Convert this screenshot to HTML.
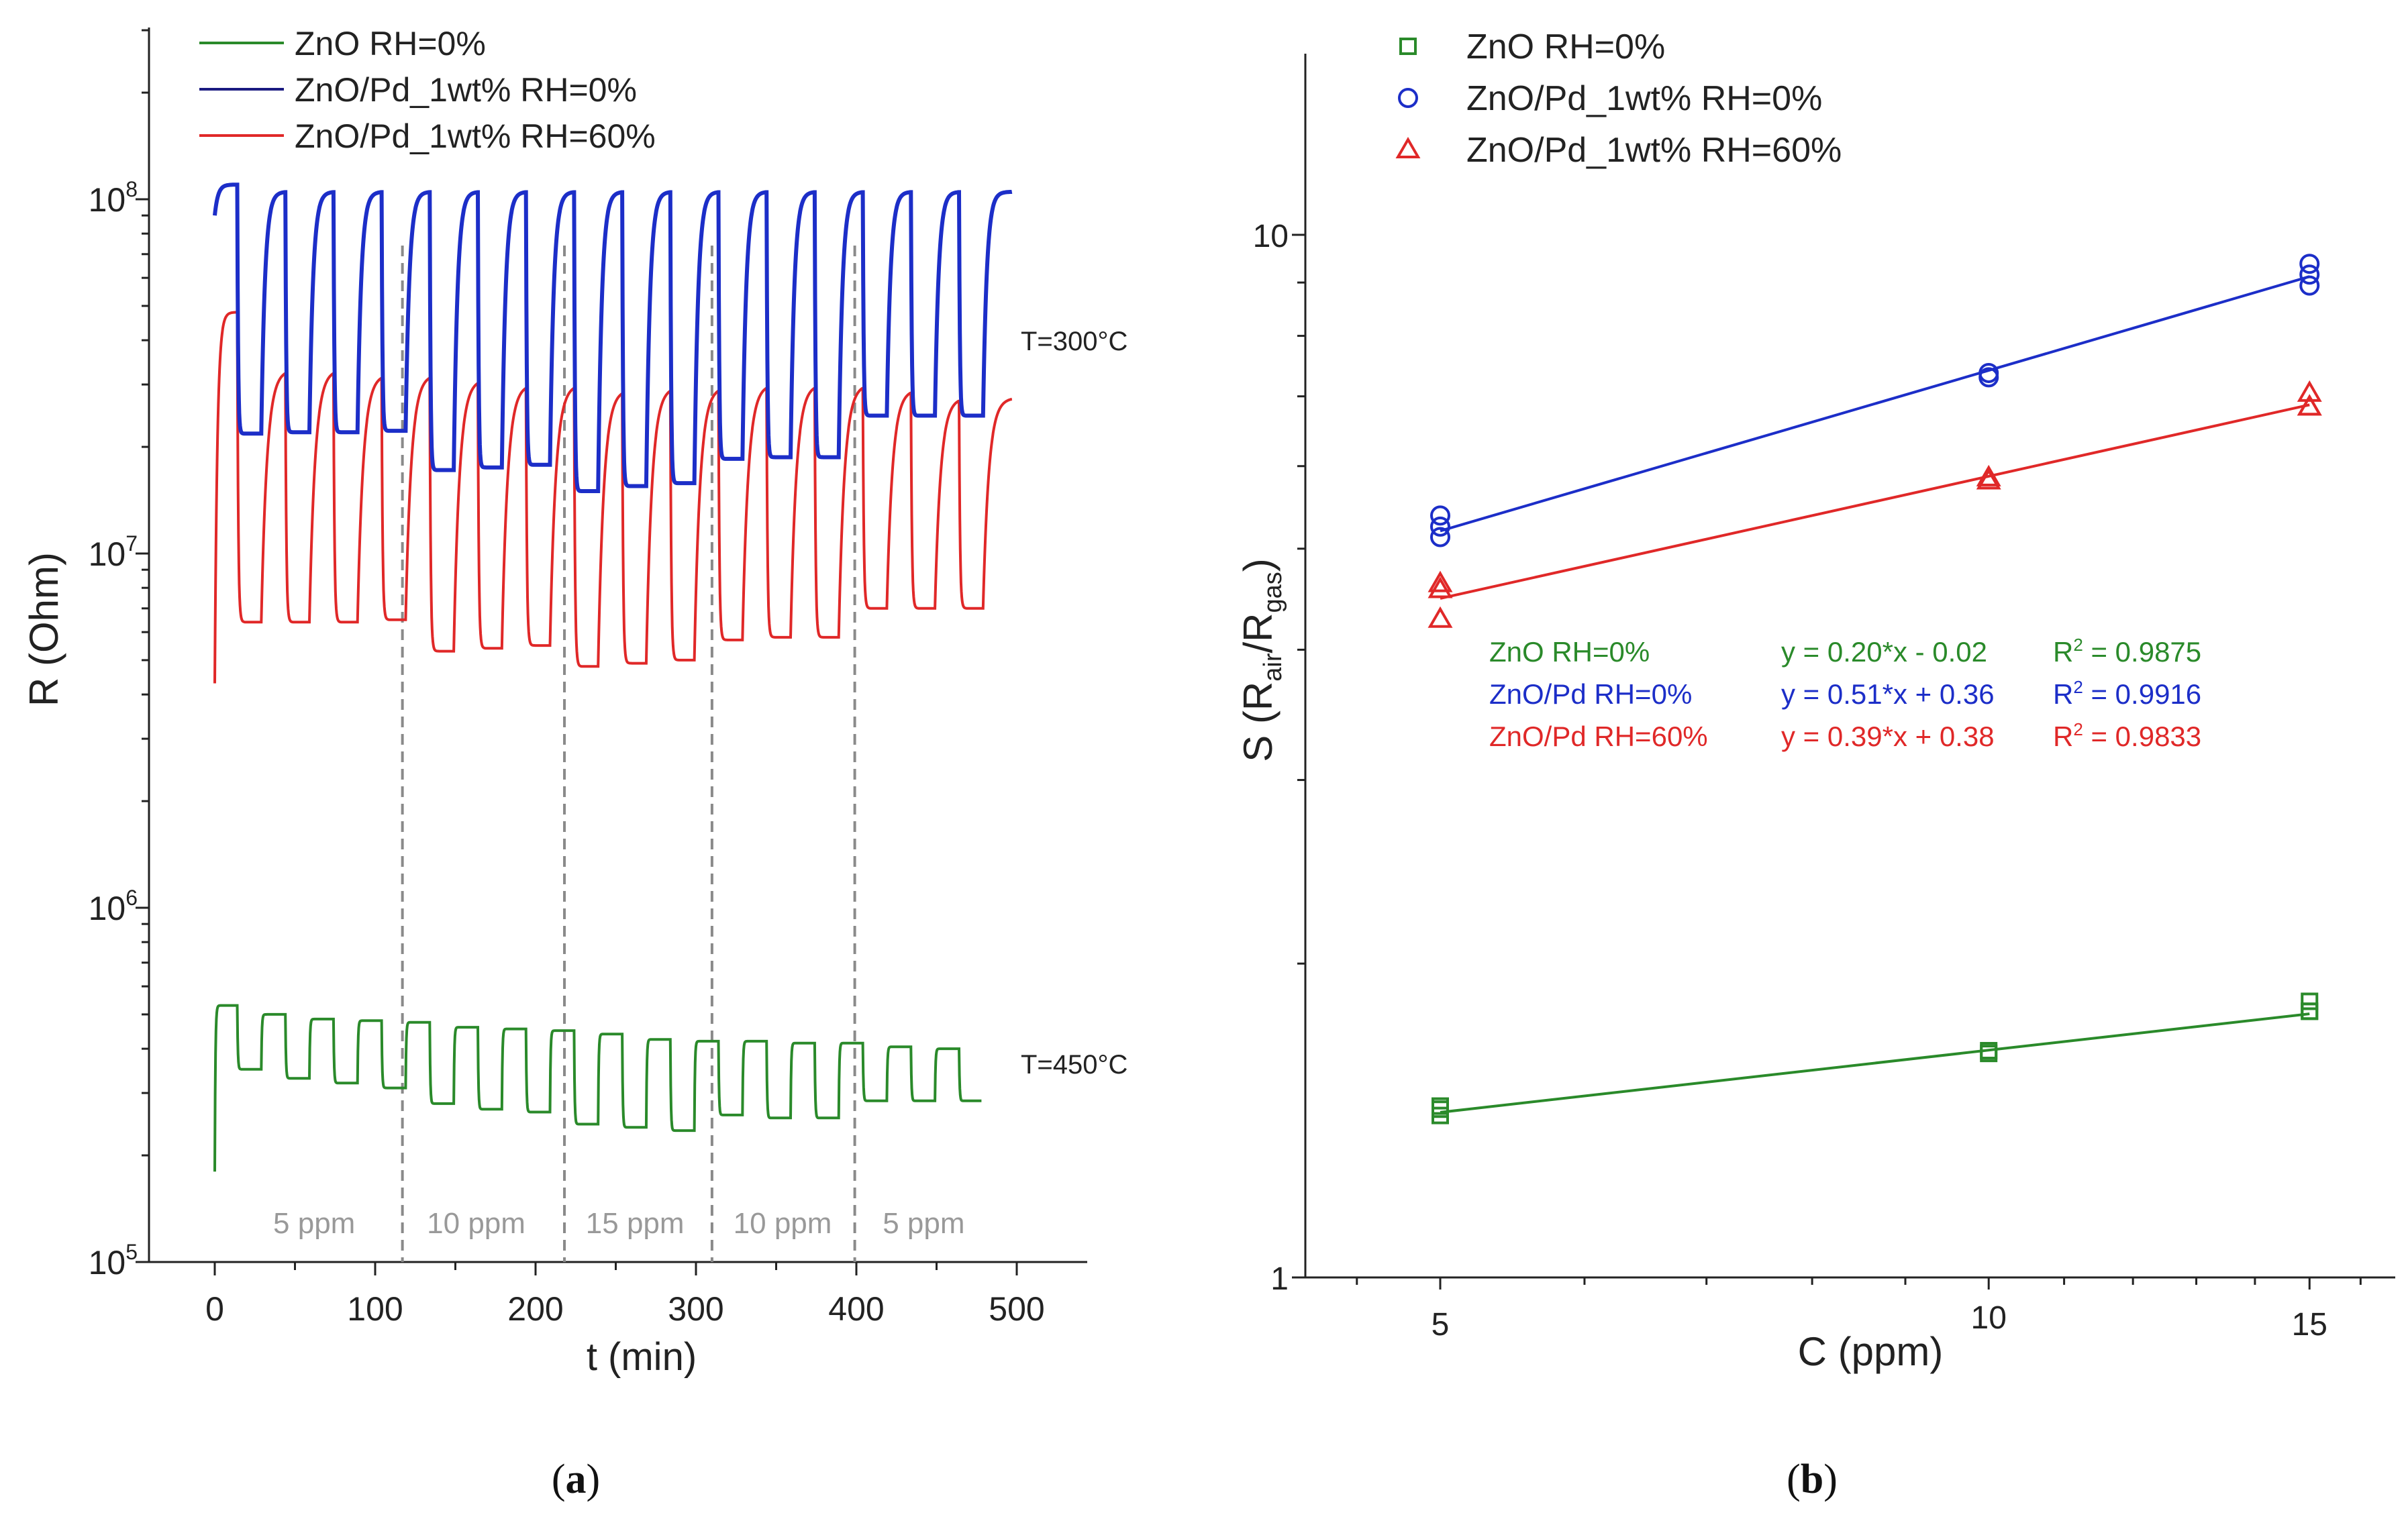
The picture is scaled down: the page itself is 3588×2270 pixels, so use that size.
<!DOCTYPE html>
<html><head><meta charset="utf-8"><style>
html,body{margin:0;padding:0;background:#fff;}
svg{display:block;font-family:"Liberation Sans",sans-serif;}
</style></head><body>
<svg id="fig" xmlns="http://www.w3.org/2000/svg" width="3588" height="2270" viewBox="0 0 3588 2270">
<rect width="3588" height="2270" fill="#fff"/>
<g id="pa"></g>
<g id="pb"></g>
</svg>
<script>
// ---------- Panel (a) data ----------
const gasOnTimes = [14,44,74,104,134,164,194,224,254,284,314,344,374,404,434,464];
const gasDuration = [15];
const dashedTimes = [117,218,310,399];
const segmentLabels = ["5 ppm","10 ppm","15 ppm","10 ppm","5 ppm"];
const segmentCenters = [62,163,262,354,442];
const xTicksA = [0,100,200,300,400,500];
const blueStart = [0.9e8];
const blueHighs = [1.1e8,1.05e8,1.05e8,1.05e8,1.05e8,1.05e8,1.05e8,1.05e8,1.05e8,1.05e8,1.05e8,1.05e8,1.05e8,1.05e8,1.05e8,1.05e8,1.05e8];
const blueLows = [2.18e7,2.2e7,2.2e7,2.22e7,1.72e7,1.75e7,1.78e7,1.5e7,1.55e7,1.58e7,1.85e7,1.87e7,1.87e7,2.45e7,2.45e7,2.45e7];
const redStart = [4.3e6];
const redHighs = [4.8e7,3.3e7,3.3e7,3.2e7,3.2e7,3.1e7,3.0e7,3.0e7,2.9e7,2.95e7,2.95e7,3.0e7,3.0e7,3.0e7,2.9e7,2.75e7,2.75e7];
const redLows = [6.4e6,6.4e6,6.4e6,6.5e6,5.3e6,5.4e6,5.5e6,4.8e6,4.9e6,5.0e6,5.7e6,5.8e6,5.8e6,7.0e6,7.0e6,7.0e6];
const greenStart = [1.8e5];
const greenHighs = [5.3e5,5.0e5,4.85e5,4.8e5,4.75e5,4.6e5,4.55e5,4.5e5,4.4e5,4.25e5,4.2e5,4.2e5,4.15e5,4.15e5,4.05e5,4.0e5,4.0e5];
const greenLows = [3.5e5,3.3e5,3.2e5,3.1e5,2.8e5,2.7e5,2.65e5,2.45e5,2.4e5,2.35e5,2.6e5,2.55e5,2.55e5,2.85e5,2.85e5,2.85e5];

// ---------- Panel (b) data ----------
const concentrations = [5,5,5,10,10,15,15,15];
const greenS = [1.45,1.43,1.46,1.64,1.65,1.84,1.80,1.80];
const blueS = [5.38,5.25,5.13,7.37,7.30,9.38,9.16,8.94];
const redS = [4.63,4.57,4.28,5.85,5.81,7.05,6.84,6.84];
const fitX = [5,15];
const greenFit = [1.44,1.79];
const blueFit = [5.20,9.12];
const redFit = [4.48,6.87];
const xTicksB = [5,10,15];

const NS="http://www.w3.org/2000/svg";
function mk(parent,tag,attrs,text){const e=document.createElementNS(NS,tag);for(const k in attrs)e.setAttribute(k,attrs[k]);if(text!==undefined)e.textContent=text;parent.appendChild(e);return e;}
const GREEN="#2a8a2a", BLUE="#1c2ec8", RED="#e02828";

// ================= Panel A =================
const pa=document.getElementById('pa');
const xA=t=>320+t*2.39;
const yA=v=>1881-(Math.log10(v)-5)*528;
let ax=mk(pa,'line',{x1:222,y1:41,x2:222,y2:1881,stroke:'#222','stroke-width':3});

ax=mk(pa,'line',{x1:222,y1:1881,x2:1620,y2:1881,stroke:'#222','stroke-width':3});

for(let d=5;d<=8;d++){for(let m=1;m<=9;m++){const v=m*Math.pow(10,d);if(Math.log10(v)>8.49)continue;
  const y=yA(v);const tk=mk(pa,'line',{x1:m==1?202:211,y1:y,x2:222,y2:y,stroke:'#222','stroke-width':3});
  
  if(m==1){const tx=mk(pa,'text',{x:205,y:y+18,'font-size':50,'text-anchor':'end',fill:'#222'});
    
    mk(tx,'tspan',{},'10');mk(tx,'tspan',{'font-size':32,dy:-22},String(d));}}}
for(let t=-0;t<=550;t+=50){const x=xA(t);if(x>1620)break;const tk=mk(pa,'line',{x1:x,y1:1881,x2:x,y2:t%100==0?1901:1893,stroke:'#222','stroke-width':3});
  }
xTicksA.forEach(t=>{const tx=mk(pa,'text',{x:xA(t),y:1968,'font-size':50,'text-anchor':'middle',fill:'#222'},String(t));
  });
let lab=mk(pa,'text',{x:956,y:2042,'font-size':58,'text-anchor':'middle',fill:'#222'},'t (min)');

lab=mk(pa,'text',{x:0,y:0,'font-size':60,'text-anchor':'middle',fill:'#222',transform:'translate(86,938) rotate(-90)'},'R (Ohm)');

dashedTimes.forEach(t=>{const l=mk(pa,'line',{x1:xA(t),y1:366,x2:xA(t),y2:1881,stroke:'#8a8a8a','stroke-width':4,'stroke-dasharray':'16,10'});
  });
segmentLabels.forEach((s,i)=>{const tx=mk(pa,'text',{x:xA(segmentCenters[i]),y:1838,'font-size':44,'text-anchor':'middle',fill:'#999'},s);
  });
function series(start,highs,lows,tauR,tauF,tEnd,tau0){
  const pts=[];let cur=Math.log10(start[0]);let phase=-1,t0=0,v0=cur,target=Math.log10(highs[0]),tau=tau0;
  const dur=gasDuration[0];
  for(let t=0;t<=tEnd+0.001;t+=0.25){
    let k=-1,inGas=false;
    for(let i=0;i<gasOnTimes.length;i++){if(t>=gasOnTimes[i]){k=i;inGas=t<gasOnTimes[i]+dur;}}
    const ph=k*2+(inGas?1:0);
    if(ph!==phase){phase=ph;t0=t;v0=cur;
      if(k<0){target=Math.log10(highs[0]);tau=tau0;}
      else if(inGas){target=Math.log10(lows[k]);tau=tauF;}
      else{target=Math.log10(highs[k+1]);tau=tauR;}}
    cur=target+(v0-target)*Math.exp(-(t-t0)/tau);
    pts.push([t,cur]);}
  return pts.map((p,i)=>(i?'L':'M')+xA(p[0]).toFixed(1)+','+(1881-(p[1]-5)*528).toFixed(1)).join('');}
let p=mk(pa,'path',{d:series(greenStart,greenHighs,greenLows,0.35,0.35,478,0.4),fill:'none',stroke:GREEN,'stroke-width':4});

p=mk(pa,'path',{d:series(redStart,redHighs,redLows,3.5,0.6,497,1.6),fill:'none',stroke:RED,'stroke-width':4});

p=mk(pa,'path',{d:series(blueStart,blueHighs,blueLows,2.3,0.5,497,2),fill:'none',stroke:BLUE,'stroke-width':6});

lab=mk(pa,'text',{x:1521,y:522,'font-size':40,fill:'#222'},'T=300°C');
lab=mk(pa,'text',{x:1521,y:1600,'font-size':40,fill:'#222'},'T=450°C');
const legA=[["ZnO RH=0%",GREEN],["ZnO/Pd_1wt% RH=0%","#1a1a80"],["ZnO/Pd_1wt% RH=60%",RED]];
legA.forEach((l,i)=>{const y=64+i*69;const g=mk(pa,'g',{});
  mk(g,'line',{x1:297,y1:y,x2:423,y2:y,stroke:l[1],'stroke-width':4});
  mk(g,'text',{x:439,y:y+18,'font-size':50,fill:'#222'},l[0]);});
lab=mk(pa,'text',{x:858,y:2225,'font-size':62,'text-anchor':'middle','font-family':'Liberation Serif,serif',fill:'#111'});

mk(lab,'tspan',{},'(');mk(lab,'tspan',{'font-weight':'bold'},'a');mk(lab,'tspan',{},')');

// ================= Panel B =================
const pb=document.getElementById('pb');
const xB=c=>2146+Math.log(c/5)*1179;
const yB=s=>1904-Math.log10(s)*1554;
ax=mk(pb,'line',{x1:1945,y1:80,x2:1945,y2:1904,stroke:'#222','stroke-width':3});
ax=mk(pb,'line',{x1:1945,y1:1904,x2:3569,y2:1904,stroke:'#222','stroke-width':3});
[1,2,3,4,5,6,7,8,9,10,20].forEach(v=>{const y=yB(v);if(y<80)return;const tk=mk(pb,'line',{x1:(v==1||v==10)?1925:1933,y1:y,x2:1945,y2:y,stroke:'#222','stroke-width':3});
  });
[["10",10],["1",1]].forEach(a=>{const tx=mk(pb,'text',{x:1920,y:yB(a[1])+18,'font-size':48,'text-anchor':'end',fill:'#222'},a[0]);});
[4.5,5,6,7,8,9,10,11,12,13,14,15,16].forEach(c=>{const x=xB(c);if(x<1945||x>3569)return;const mj=xTicksB.includes(c);
  const tk=mk(pb,'line',{x1:x,y1:1904,x2:x,y2:mj?1922:1915,stroke:'#222','stroke-width':3});});
xTicksB.forEach(c=>{const tx=mk(pb,'text',{x:xB(c),y:c==10?1980:1990,'font-size':48,'text-anchor':'middle',fill:'#222'},String(c));});
lab=mk(pb,'text',{x:2787,y:2035,'font-size':60,'text-anchor':'middle',fill:'#222'},'C (ppm)');
lab=mk(pb,'text',{x:0,y:0,'font-size':60,'text-anchor':'middle',fill:'#222',transform:'translate(1895,984) rotate(-90)'});

mk(lab,'tspan',{},'S (R');mk(lab,'tspan',{'font-size':38,dy:14},'air');mk(lab,'tspan',{dy:-14},'/R');mk(lab,'tspan',{'font-size':38,dy:14},'gas');mk(lab,'tspan',{dy:-14},')');
[[greenFit,GREEN,'fit-zno'],[blueFit,BLUE,'fit-znopd-rh0'],[redFit,RED,'fit-znopd-rh60']].forEach(f=>{
  const l=mk(pb,'line',{x1:xB(fitX[0]),y1:yB(f[0][0]),x2:xB(fitX[1]),y2:yB(f[0][1]),stroke:f[1],'stroke-width':4});
  });
function marker(g,type,x,y,col){
  if(type=='sq')return mk(g,'rect',{x:x-11,y:y-11,width:22,height:22,fill:'none',stroke:col,'stroke-width':4});
  if(type=='ci')return mk(g,'circle',{cx:x,cy:y,r:13,fill:'none',stroke:col,'stroke-width':4});
  return mk(g,'path',{d:`M${x},${y-15}L${x+15},${y+11}L${x-15},${y+11}Z`,fill:'none',stroke:col,'stroke-width':4});}
concentrations.forEach((c,i)=>{
  let m=marker(pb,'sq',xB(c),yB(greenS[i]),GREEN);
  m=marker(pb,'ci',xB(c),yB(blueS[i]),BLUE);
  m=marker(pb,'tr',xB(c),yB(redS[i]),RED);});
const legB=[["ZnO RH=0%",GREEN,'sq'],["ZnO/Pd_1wt% RH=0%",BLUE,'ci'],["ZnO/Pd_1wt% RH=60%",RED,'tr']];
legB.forEach((l,i)=>{const y=69+i*77;const g=mk(pb,'g',{});
  marker(g,l[2],2098,y,l[1]);
  mk(g,'text',{x:2185,y:y+18,'font-size':52,fill:'#222'},l[0]);});
const ann=[["ZnO RH=0%","y = 0.20*x - 0.02","0.9875",GREEN],["ZnO/Pd RH=0%","y = 0.51*x + 0.36","0.9916",BLUE],["ZnO/Pd RH=60%","y = 0.39*x + 0.38","0.9833",RED]];
ann.forEach((a,i)=>{const y=986+i*63;const g=mk(pb,'g',{'font-size':42,fill:a[3]});
  mk(g,'text',{x:2219,y:y},a[0]);mk(g,'text',{x:2654,y:y},a[1]);
  const r=mk(g,'text',{x:3059,y:y});mk(r,'tspan',{},'R');mk(r,'tspan',{'font-size':26,dy:-16},'2');mk(r,'tspan',{dy:16},' = '+a[2]);});
lab=mk(pb,'text',{x:2700,y:2225,'font-size':62,'text-anchor':'middle','font-family':'Liberation Serif,serif',fill:'#111'});

mk(lab,'tspan',{},'(');mk(lab,'tspan',{'font-weight':'bold'},'b');mk(lab,'tspan',{},')');
</script>
</body></html>
